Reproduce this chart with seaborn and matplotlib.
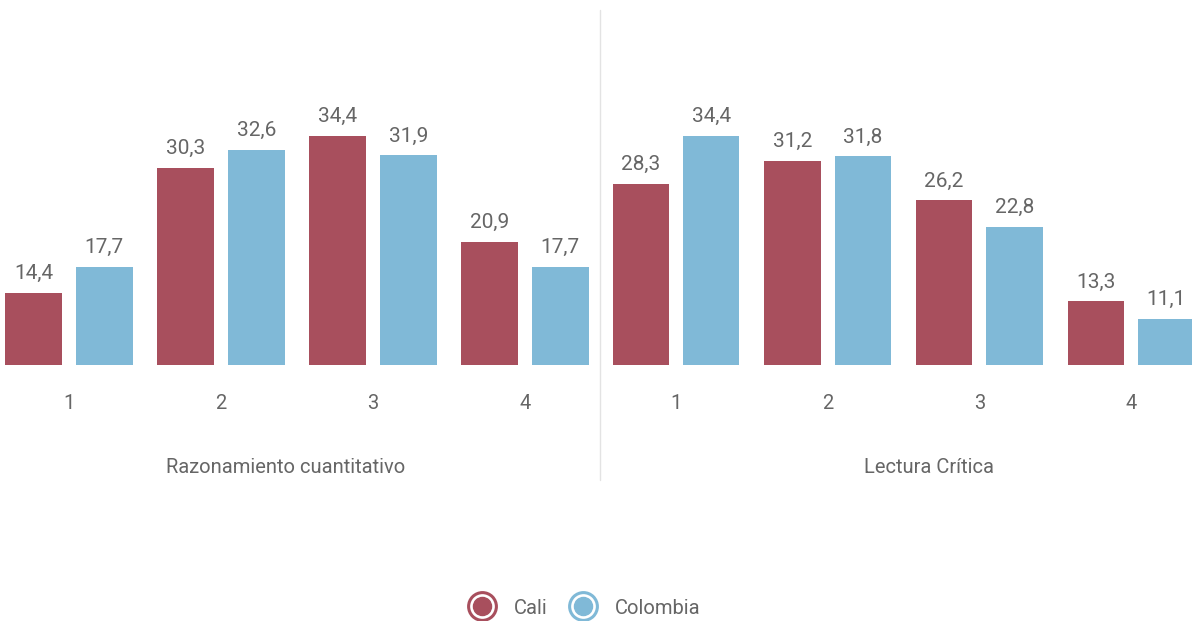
import pandas as pd
import seaborn as sns
import matplotlib.pyplot as plt
from matplotlib.lines import Line2D

niveles = ["1", "2", "3", "4"]
cali_rc = [14.4, 30.3, 34.4, 20.9]
colombia_rc = [17.7, 32.6, 31.9, 17.7]
cali_lc = [28.3, 31.2, 26.2, 13.3]
colombia_lc = [34.4, 31.8, 22.8, 11.1]
pruebas = ["Razonamiento cuantitativo", "Lectura Crítica"]
series = ["Cali", "Colombia"]
colores = {"Cali": "#A84F5D", "Colombia": "#80B9D7"}

sns.set_theme(style="white")
plt.rcParams["font.family"] = ["Roboto", "DejaVu Sans"]
gris = "#666666"

def tabla(cali, col):
    return pd.DataFrame({
        "nivel": niveles * 2,
        "valor": cali + col,
        "serie": ["Cali"] * 4 + ["Colombia"] * 4,
    })

W, H = 1192, 621
fig = plt.figure(figsize=(W / 100, H / 100), dpi=100)
base = 365
ppu = 7.85
ymin, ymax = 5.2, 50
alto = (ymax - ymin) * ppu
ax1 = fig.add_axes([0 / W, (H - base) / H, 598 / W, alto / H])
ax2 = fig.add_axes([603 / W, (H - base) / H, 589 / W, alto / H])

datos = [tabla(cali_rc, colombia_rc), tabla(cali_lc, colombia_lc)]
limites = [(-69 / 152, (598 - 69) / 152), ((603 - 676) / 151.7, (1192 - 676) / 151.7)]
pos_titulo = [0.478, 0.553]

for ax, df, titulo, lim, px in zip([ax1, ax2], datos, pruebas, limites, pos_titulo):
    sns.barplot(data=df, x="nivel", y="valor", hue="serie", palette=colores,
                width=0.93, gap=0.2, ax=ax, legend=False, saturation=1, linewidth=0)
    for cont in ax.containers:
        ax.bar_label(cont, labels=[f"{v:.1f}".replace(".", ",") for v in cont.datavalues],
                     padding=7, fontsize=15, color=gris)
    ax.set_xlim(*lim)
    ax.set_ylim(ymin, ymax)
    ax.set_yticks([])
    ax.set_ylabel("")
    ax.set_xlabel(titulo, fontsize=14.5, color=gris)
    ax.xaxis.set_label_coords(px, -93 / alto)
    ax.tick_params(axis="x", length=0, labelsize=14.5, labelcolor=gris, pad=21)
    sns.despine(ax=ax, left=True, bottom=True)

fig.add_artist(Line2D([600 / W, 600 / W], [(H - 480) / H, (H - 10) / H],
                      color="#e3e3e3", lw=1))

handles = []
for s in series:
    anillo = Line2D([], [], ls="", marker="o", markersize=20, markerfacecolor="white",
                    markeredgecolor=colores[s], markeredgewidth=2.2)
    punto = Line2D([], [], ls="", marker="o", markersize=13, markerfacecolor=colores[s],
                   markeredgecolor=colores[s])
    handles.append((anillo, punto))
fig.legend(handles, series, loc="center", bbox_to_anchor=(585 / W, (H - 608) / H),
           ncol=2, frameon=False, fontsize=14.5, labelcolor=gris,
           handletextpad=1.0, columnspacing=1.15, handlelength=1.2)

fig.savefig("out.png", dpi=100)
